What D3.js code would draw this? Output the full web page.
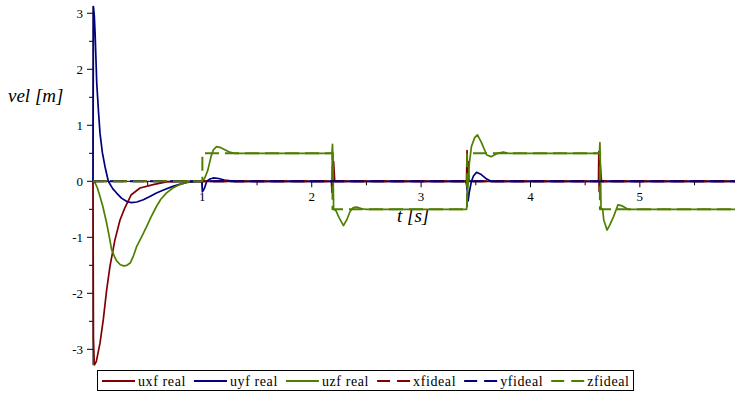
<!DOCTYPE html>
<html>
<head>
<meta charset="utf-8">
<script src="https://cdn.jsdelivr.net/npm/d3@7"></script>
<style>
  html, body { margin: 0; padding: 0; background: #fff; }
  svg { display: block; }
</style>
</head>
<body>
<svg id="chart" width="740" height="400"></svg>
<script>
// ---- data (t [s], vel) ----
const uxfReal = [
  [0,0],[0.004,-2.8],[0.012,-3.28],[0.03,-3.22],[0.064,-2.89],[0.094,-2.47],[0.125,-1.94],
  [0.155,-1.52],[0.2,-1.05],[0.247,-0.69],[0.29,-0.48],[0.35,-0.24],[0.43,-0.12],
  [0.55,-0.06],[0.67,-0.01],[0.8,0],[2.18,0],[2.185,-0.2],[2.19,0.52],[2.195,0.1],
  [2.2,0.35],[2.21,0],[3.415,0],[3.42,0.55],[3.425,0.15],[3.43,0.35],[3.438,0],
  [4.622,0],[4.625,0.53],[4.628,-0.18],[4.635,0.38],[4.645,0.1],[4.65,0],[5.87,0]
];
const uyfReal = [
  [0,0],[0.004,3.12],[0.012,2.95],[0.02,2.6],[0.034,1.76],[0.05,1.25],[0.064,0.86],
  [0.085,0.52],[0.11,0.26],[0.14,0],[0.18,-0.13],[0.216,-0.21],[0.26,-0.3],[0.31,-0.36],
  [0.35,-0.38],[0.4,-0.37],[0.46,-0.33],[0.52,-0.27],[0.58,-0.21],[0.65,-0.15],
  [0.73,-0.09],[0.8,-0.05],[0.86,-0.02],[0.95,0],[0.995,0],[1.0,-0.19],[1.02,-0.12],
  [1.04,0],[1.07,0.04],[1.1,0.06],[1.15,0.05],[1.2,0.02],[1.3,0],[3.41,0],[3.42,-0.12],
  [3.43,-0.35],[3.44,-0.2],[3.46,0],[3.48,0.1],[3.507,0.16],[3.55,0.12],[3.6,0.04],
  [3.64,0],[5.87,0]
];
const uzfReal = [
  [0,0],[0.02,-0.03],[0.04,-0.12],[0.064,-0.27],[0.09,-0.45],[0.125,-0.75],[0.15,-1.0],
  [0.17,-1.22],[0.2,-1.36],[0.216,-1.42],[0.25,-1.49],[0.28,-1.51],[0.31,-1.5],
  [0.34,-1.46],[0.37,-1.33],[0.4,-1.16],[0.45,-0.97],[0.49,-0.81],[0.53,-0.64],
  [0.58,-0.45],[0.62,-0.32],[0.67,-0.21],[0.73,-0.12],[0.79,-0.06],[0.85,-0.02],
  [0.9,0],[1.0,0],[1.02,0.05],[1.05,0.2],[1.08,0.45],[1.1,0.56],[1.13,0.62],[1.17,0.6],
  [1.21,0.56],[1.25,0.52],[1.29,0.5],[2.185,0.5],[2.19,0.66],[2.195,0.2],[2.2,-0.5],
  [2.22,-0.52],[2.25,-0.65],[2.29,-0.79],[2.32,-0.69],[2.35,-0.54],[2.38,-0.47],
  [2.41,-0.46],[2.46,-0.49],[2.5,-0.5],[3.416,-0.5],[3.425,-0.2],[3.44,0.3],
  [3.46,0.62],[3.49,0.78],[3.515,0.83],[3.55,0.7],[3.6,0.47],[3.64,0.44],[3.7,0.5],
  [3.75,0.52],[3.8,0.5],[4.63,0.5],[4.635,0.69],[4.64,0.2],[4.645,-0.48],[4.66,-0.5],
  [4.67,-0.69],[4.7,-0.87],[4.72,-0.8],[4.76,-0.63],[4.8,-0.42],[4.84,-0.44],
  [4.89,-0.5],[5.87,-0.5]
];
const xfIdeal = [[0,0],[5.87,0]];
const yfIdeal = [[0,0],[5.87,0]];
const zfIdeal = [
  [0,0],[1,0],[1,0.5],[2.19,0.5],[2.19,-0.5],[3.42,-0.5],[3.42,0.5],
  [4.635,0.5],[4.635,-0.5],[5.87,-0.5]
];
const seriesNames = ["uxf real","uyf real","uzf real","xfideal","yfideal","zfideal"];
const xMajorTicks = [1,2,3,4,5];
const xMinorTicks = [0.5,1.5,2.5,3.5,4.5,5.5];
const yMajorTicks = [-3,-2,-1,0,1,2,3];
const yMinorTicks = [-2.5,-1.5,-0.5,0.5,1.5,2.5];
const xDomain = [0, 5.87];
const yDomain = [-3.28, 3.13];

// ---- layout ----
const FONT = "Liberation Serif";
const svg = d3.select("#chart");
const x = d3.scaleLinear().domain(xDomain).range([93, 735]);
const y = d3.scaleLinear().domain(yDomain).range([365, 6]);

const red = "#800000", blue = "#000080", green = "#4f7f00";
const styles = [
  {data: uxfReal, color: red,   w: 1.7, dash: null, off: 0},
  {data: uyfReal, color: blue,  w: 1.7, dash: null, off: 0},
  {data: uzfReal, color: green, w: 1.7, dash: null, off: 0},
  {data: xfIdeal, color: red,   w: 2,   dash: "14,6", off: 0},
  {data: yfIdeal, color: blue,  w: 2,   dash: "14,6", off: 3},
  {data: zfIdeal, color: green, w: 2,   dash: "14,6", off: 0}
];

// axes
svg.append("line").attr("x1", x(0)).attr("x2", x(xDomain[1]))
  .attr("y1", y(0)).attr("y2", y(0)).attr("stroke", "#000").attr("stroke-width", 1);
svg.append("line").attr("x1", x(0)).attr("x2", x(0))
  .attr("y1", y(yDomain[0])).attr("y2", y(yDomain[1])).attr("stroke", "#000").attr("stroke-width", 1);

// x ticks
svg.selectAll(".xmaj").data(xMajorTicks).enter().append("line")
  .attr("x1", d => x(d)).attr("x2", d => x(d)).attr("y1", y(0)).attr("y2", y(0) + 6)
  .attr("stroke", "#000");
svg.selectAll(".xmin").data(xMinorTicks).enter().append("line")
  .attr("x1", d => x(d)).attr("x2", d => x(d)).attr("y1", y(0)).attr("y2", y(0) + 4)
  .attr("stroke", "#000");
svg.selectAll(".xlab").data(xMajorTicks).enter().append("text")
  .attr("x", d => x(d)).attr("y", y(0) + 20).attr("text-anchor", "middle")
  .style("font-family", FONT).style("font-size", "13px").text(d => d);

// y ticks
svg.selectAll(".ymaj").data(yMajorTicks).enter().append("line")
  .attr("x1", x(0) - 6).attr("x2", x(0)).attr("y1", d => y(d)).attr("y2", d => y(d))
  .attr("stroke", "#000");
svg.selectAll(".ymin").data(yMinorTicks).enter().append("line")
  .attr("x1", x(0) - 4).attr("x2", x(0)).attr("y1", d => y(d)).attr("y2", d => y(d))
  .attr("stroke", "#000");
svg.selectAll(".ylab").data(yMajorTicks).enter().append("text")
  .attr("x", x(0) - 10).attr("y", d => y(d) + 5).attr("text-anchor", "end")
  .style("font-family", FONT).style("font-size", "13px")
  .text(d => d < 0 ? "-" + Math.abs(d) : d);

// axis labels
svg.append("text").attr("x", 8).attr("y", 102)
  .style("font-family", FONT).style("font-size", "19px").style("font-style", "italic")
  .text("vel [m]");
svg.append("text").attr("x", 397).attr("y", 222)
  .style("font-family", FONT).style("font-size", "19px").style("font-style", "italic")
  .text("t [s]");

// series
const line = d3.line().x(d => x(d[0])).y(d => y(d[1]));
styles.forEach(s => {
  const p = svg.append("path").attr("d", line(s.data)).attr("fill", "none")
    .attr("stroke", s.color).attr("stroke-width", s.w).attr("stroke-linejoin", "round");
  if (s.dash) p.attr("stroke-dasharray", s.dash).attr("stroke-dashoffset", s.off);
});

// legend
const lg = svg.append("g");
const box = lg.append("rect").attr("y", 370.5).attr("height", 20)
  .attr("fill", "#fff").attr("stroke", "#000").attr("stroke-width", 1);
let cx = 102;
seriesNames.forEach((name, i) => {
  const s = styles[i];
  const l = lg.append("line").attr("x1", cx).attr("x2", cx + 33).attr("y1", 381).attr("y2", 381)
    .attr("stroke", s.color).attr("stroke-width", 2);
  if (s.dash) l.attr("stroke-dasharray", "13,7");
  const t = lg.append("text").attr("x", cx + 36).attr("y", 386)
    .style("font-family", FONT).style("font-size", "14px").style("letter-spacing", "0.6px")
    .text(name);
  cx += 36 + t.node().getComputedTextLength() + 8;
});
box.attr("x", 97.5).attr("width", cx - 4 - 97.5);
</script>
</body>
</html>
